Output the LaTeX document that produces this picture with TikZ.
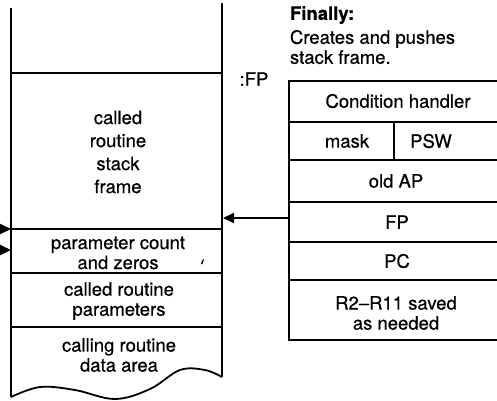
\documentclass[tikz,border=0pt]{standalone}
\usepackage{fontspec}
\setmainfont{TeX Gyre Heros}[FakeBold=0.6]
\usetikzlibrary{arrows.meta}
\begin{document}
\begin{tikzpicture}[x=1pt,y=-1pt, line width=2pt,
  lbl/.style={font=\fontsize{18.5}{20}\selectfont, align=center, inner sep=0pt},
  note/.style={font=\fontsize{18.5}{20}\selectfont, align=left, inner sep=0pt, anchor=west},
  arr/.style={-{Triangle[length=11pt,width=10pt]}, line width=2pt}]
\useasboundingbox (0,0) rectangle (497,400);
% left stack column
\coordinate (ltop) at (11,8);
\coordinate (lbot) at (11,397);
\coordinate (rtop) at (222,3);
\coordinate (rbot) at (222,377);
\draw (ltop) -- (lbot);
\draw (rtop) -- (rbot);
\draw (11,73) -- (222,73);
\draw (11,229) -- (222,229);
\draw (11,273) -- (222,273);
\draw (11,327) -- (222,327);
\draw[line width=1.8pt] plot[smooth, tension=0.6] coordinates {(11,397) (40,387) (75,390) (115,399) (150,389) (180,370) (205,370) (222,377)};
\node[lbl, font=\fontsize{18.5}{23}\selectfont] (csf) at (118,152) {called\\routine\\stack\\frame};
\node[lbl] (pcz) at (118,253) {parameter count\\and zeros};
\node[lbl] (crp) at (119,301) {called routine\\parameters};
\node[lbl] (cda) at (119,355) {calling routine\\data area};
\fill (202,260.5) -- (204,259) -- (202.5,264) -- (201,264) -- cycle;
% left arrows
\coordinate (a1s) at (0,229);
\coordinate (a1e) at (11,229);
\coordinate (a2s) at (0,250);
\coordinate (a2e) at (11,250);
\draw[arr] (a1s) -- (a1e);
\draw[arr] (a2s) -- (a2e);
% right frame box
\draw (497,81) -- (289,81) -- (289,340) -- (497,340);
\draw (289,122) -- (497,122);
\draw (289,160) -- (497,160);
\draw (394,122) -- (394,160);
\draw (289,202) -- (497,202);
\draw (289,242) -- (497,242);
\draw (289,280) -- (497,280);
\node[lbl] (ch) at (398,101) {Condition handler};
\node[lbl] (mask) at (347,141) {mask};
\node[lbl] (psw) at (431,141) {PSW};
\node[lbl] (oap) at (396,181) {old AP};
\node[lbl] (fp) at (397,222) {FP};
\node[lbl] (pc) at (397,261) {PC};
\node[lbl] (rsv) at (396,313) {R2–R11 saved\\as needed};
\node[lbl] (fplbl) at (254,79) {:FP};
\node[note, font=\bfseries\fontsize{18.5}{20}\selectfont] (fin) at (289,15) {Finally:};
\node[note] (cre) at (289,47) {Creates and pushes\\stack frame.};
% arrow from FP row
\coordinate (fpl) at (289,218);
\coordinate (fpt) at (223,218);
\draw[arr] (fpl) -- (fpt);
\end{tikzpicture}
\end{document}
